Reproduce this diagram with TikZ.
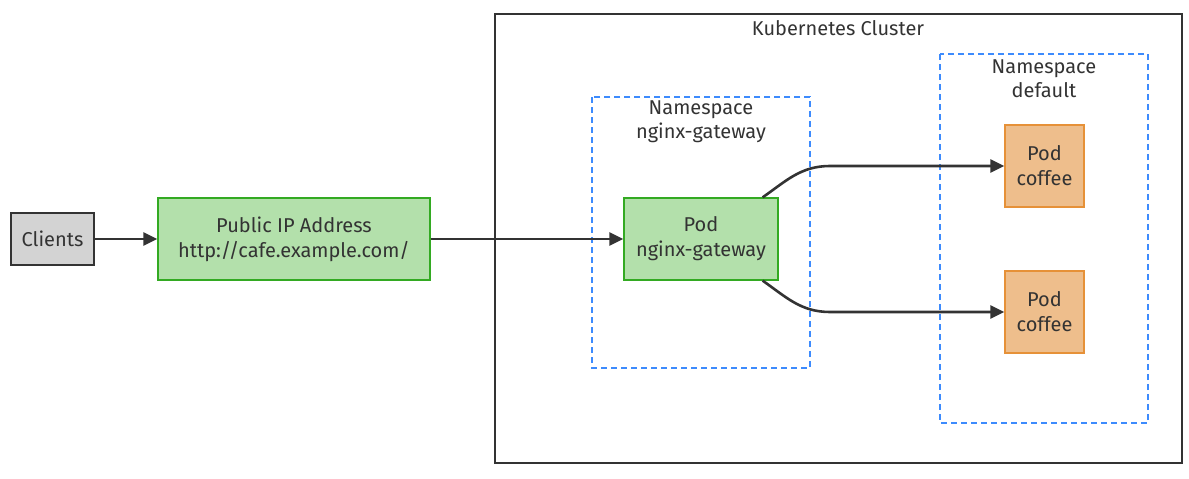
\documentclass[tikz,border=0pt]{standalone}
\usepackage{fontspec}
\setmainfont{Fira Sans}
\usepackage{xcolor}
\usetikzlibrary{positioning,calc,arrows.meta}

\definecolor{txtgray}{HTML}{333333}
\definecolor{clientfill}{HTML}{D3D3D3}
\definecolor{gwfill}{HTML}{B3E0AB}
\definecolor{gwline}{HTML}{33AA22}
\definecolor{podfill}{HTML}{EEBE8C}
\definecolor{podline}{HTML}{E69138}
\definecolor{nsblue}{HTML}{3D8BFD}

\tikzset{
    box/.style={draw, line width=1.3pt, inner sep=0pt, align=center, text=txtgray,
        font=\fontsize{20}{25}\selectfont},
    clientbox/.style={box, fill=clientfill, draw=txtgray, minimum width=83, minimum height=52},
    gwbox/.style={box, fill=gwfill, draw=gwline, minimum height=82},
    podbox/.style={box, fill=podfill, draw=podline, minimum width=79, minimum height=82},
    nsbox/.style={draw=nsblue, line width=1.3pt, dash pattern=on 6pt off 4pt},
    label/.style={text=txtgray, align=center, font=\fontsize{20}{24}\selectfont},
    link/.style={draw=txtgray, line width=2.6pt, -{Triangle[length=14pt,width=13pt]}}
}

\begin{document}
\begin{tikzpicture}[x=1pt, y=-1pt]
    \useasboundingbox (0,0) rectangle (1189,479);

    % cluster and namespaces
    \draw [txtgray, line width=1.3pt] (495,14) rectangle (1182,463);
    \node [label] (clusterlbl) at (838,28) {Kubernetes Cluster};
    \draw [nsbox] (592,97) rectangle (810,368);
    \node [label] (nsgwlbl) at (701,122) {Namespace\\nginx-gateway};
    \draw [nsbox] (940,54) rectangle (1148,423);
    \node [label] (nsdeflbl) at (1044,79) {Namespace\\default};

    % nodes
    \node [clientbox] (clients) at (52.5,239) {Clients};
    \node [gwbox, minimum width=272] (publicip) at (294,239) {Public IP Address\\http://cafe.example.com/};
    \node [gwbox, minimum width=154] (gw) at (701,239) {Pod\\nginx-gateway};
    \node [podbox] (coffeea) at (1044.5,166) {Pod\\coffee};
    \node [podbox] (coffeeb) at (1044.5,312) {Pod\\coffee};

    % connectors
    \draw [link] (clients) -- (publicip);
    \draw [link] (publicip) -- (gw);
    \coordinate (gwtop) at ($(gw.north east)+(-16,0)$);
    \coordinate (gwbot) at ($(gw.south east)+(-16,0)$);
    \draw [link] (gwtop) to[out=35,in=180] (830,166) -- (coffeea.west);
    \draw [link] (gwbot) to[out=-35,in=180] (830,312) -- (coffeeb.west);
\end{tikzpicture}
\end{document}
